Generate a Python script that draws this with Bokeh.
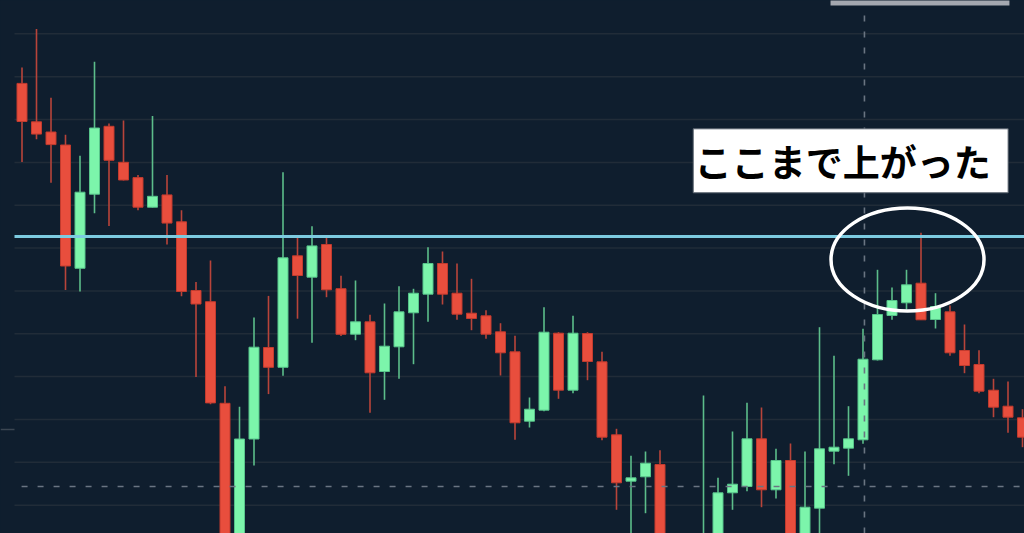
from bokeh.plotting import figure
from bokeh.models import Range1d, Label, ColumnDataSource
from bokeh.embed import file_html
from bokeh.resources import INLINE

# ---- data (arbitrary price units) ----
idx = list(range(70))
opens = [450.1, 411.7, 401.5, 388.5, 265.2, 339.3, 407.2, 371.2, 355.9, 326.3,
         338.6, 311.7, 243.0, 231.8, 130.2, -27.0, 94.5, 186.0, 166.2, 277.7,
         256.3, 289.0, 244.8, 199.3, 211.7, 162.0, 186.7, 220.7, 239.3, 270.0,
         240.3, 220.3, 217.7, 201.7, 181.7, 112.3, 123.3, 200.3, 143.3, 200.0,
         171.7, 98.7, 52.3, 56.7, 69.0, -30.0, -55.0, -40.0, -20.0, 40.7,
         47.0, 94.7, 43.7, 73.0, -15.0, 25.3, 82.3, 85.3, 93.7, 173.7,
         218.0, 230.7, 250.3, 214.0, 221.7, 183.0, 169.0, 143.3, 127.3, 115.7]
highs = [466.0, 504.4, 435.8, 398.7, 377.7, 471.8, 410.0, 413.0, 358.6, 417.4,
         358.6, 323.3, 251.6, 273.0, 147.2, 126.8, 215.9, 237.6, 361.3, 296.1,
         307.3, 297.8, 257.7, 253.0, 218.7, 230.0, 247.3, 244.7, 286.3, 282.0,
         270.0, 254.7, 223.3, 210.3, 197.7, 136.0, 226.3, 201.3, 217.7, 201.3,
         181.7, 104.7, 77.7, 82.0, 83.3, -10.0, -15.0, 138.0, 55.7, 102.0,
         130.7, 126.0, 84.7, 90.0, 82.0, 206.3, 177.7, 127.3, 204.7, 263.7,
         246.0, 263.7, 300.7, 240.3, 228.0, 209.0, 183.3, 154.7, 152.0, 124.3]
lows = [371.5, 394.3, 350.8, 243.4, 242.0, 320.2, 307.6, 353.0, 323.3, 326.0,
        289.0, 237.3, 156.4, 129.2, -32.0, -37.0, 68.0, 139.4, 157.7, 214.8,
        190.7, 236.3, 197.5, 193.3, 120.7, 133.7, 154.7, 169.3, 211.7, 229.0,
        213.7, 203.3, 194.7, 158.0, 93.7, 106.0, 122.3, 134.7, 140.3, 153.3,
        93.3, 23.7, -12.0, 20.3, -37.0, -60.0, -65.0, -50.0, -30.0, 23.7,
        42.3, 26.3, 35.0, -30.0, -25.0, -10.0, 69.3, 57.7, 89.7, 173.0,
        213.7, 224.0, 213.5, 205.0, 177.7, 160.3, 140.3, 116.3, 100.7, 86.3]
closes = [412.0, 399.4, 388.9, 267.5, 341.3, 405.5, 373.2, 353.5, 326.3, 337.2,
          310.4, 242.0, 229.5, 130.6, -22.0, 94.5, 186.3, 166.2, 275.7, 258.0,
          287.6, 243.7, 199.2, 211.7, 160.7, 187.3, 221.7, 240.3, 270.0, 239.3,
          219.3, 215.0, 199.3, 180.7, 110.7, 124.3, 201.3, 143.3, 200.3, 172.0,
          96.3, 50.7, 55.7, 70.3, -27.0, -50.0, -30.0, -5.0, 40.7, 49.3,
          94.7, 43.7, 73.0, -20.0, 26.3, 84.7, 86.3, 94.7, 174.3, 219.0,
          233.0, 248.7, 213.7, 227.0, 180.7, 168.0, 142.3, 126.3, 116.3, 96.3]

grid_levels = [499.7, 456.8, 414.0, 371.1, 328.3, 285.4, 242.6, 199.7, 156.9, 114.0, 71.2, 28.3]
resistance_level = 297.0
crosshair_price = 47.0
crosshair_bar = 58.1
annotation_text = "ここまで上がった"

# ---- styles ----
BG = "#0f1e2e"
GRID = "#212c38"
UP_FILL, UP_LINE, UP_WICK = "#7cf5ab", "#57c48a", "#5cbd8a"
DN_FILL, DN_LINE, DN_WICK = "#e84e3d", "#c23b2e", "#b8443a"

X0, X1 = -1.483, 69.138

p = figure(width=1024, height=533, output_backend="svg", toolbar_location=None,
           x_range=Range1d(X0, X1), y_range=Range1d(0, 533),
           x_axis_location=None, y_axis_location=None, min_border=0,
           background_fill_color=BG, border_fill_color=BG, outline_line_color=None)
p.grid.visible = False

# grid lines
p.segment(x0=[-0.517] * len(grid_levels), x1=[X1] * len(grid_levels),
          y0=grid_levels, y1=grid_levels, line_color=GRID, line_width=1.5)
# small price-scale tick at left
p.segment(x0=[X0], x1=[-0.517], y0=[104], y1=[104], line_color="#3b4652", line_width=1.5)

up = [c >= o for o, c in zip(opens, closes)]
src = ColumnDataSource(dict(
    x=idx, o=opens, h=highs, l=lows, c=closes,
    top=[max(o, c) for o, c in zip(opens, closes)],
    bot=[min(o, c) for o, c in zip(opens, closes)],
    fill=[UP_FILL if u else DN_FILL for u in up],
    line=[UP_LINE if u else DN_LINE for u in up],
    wick=[UP_WICK if u else DN_WICK for u in up],
))
p.segment(x0="x", x1="x", y0="l", y1="h", line_color="wick", line_width=1.6, source=src)
p.vbar(x="x", width=0.69, top="top", bottom="bot", fill_color="fill",
       line_color="line", line_width=1, source=src)

# resistance line
p.segment(x0=[-0.517], x1=[X1], y0=[resistance_level], y1=[resistance_level],
          line_color="#7ccbe0", line_width=3)
# crosshair
p.segment(x0=[-0.03], x1=[X1], y0=[crosshair_price], y1=[crosshair_price],
          line_color="#6a7582", line_width=1.6, line_dash="6 10")
p.segment(x0=[crosshair_bar], x1=[crosshair_bar], y0=[0], y1=[528],
          line_color="#6a7582", line_width=1.6, line_dash="6 10")
# crosshair time label (top, cropped)
p.quad(left=[55.76], right=[68.10], bottom=[528], top=[540],
       fill_color="#a4a8b0", line_color=None)

# ellipse marking the top
p.ellipse(x=[61.07], y=[274], width=[153], height=[103],
          width_units="screen", height_units="screen",
          fill_color=None, line_color="white", line_width=3.5)

# annotation box
p.quad(left=[46.29], right=[68.01], bottom=[340.7], top=[404.7],
       fill_color="white", line_color="#56606b", line_width=1)
p.add_layout(Label(x=46.4, y=372.5, text=annotation_text,
                   text_font="Noto Sans CJK JP", text_font_style="bold",
                   text_font_size="37px", text_color="black",
                   text_baseline="middle", text_align="left"))

TEMPLATE = """
{% block postamble %}
<style>
html, body { margin: 0 !important; padding: 0 !important; background: #0f1e2e; overflow: hidden; }
</style>
{% endblock %}
"""

open("out.html", "w").write(file_html(p, INLINE, template=TEMPLATE))
